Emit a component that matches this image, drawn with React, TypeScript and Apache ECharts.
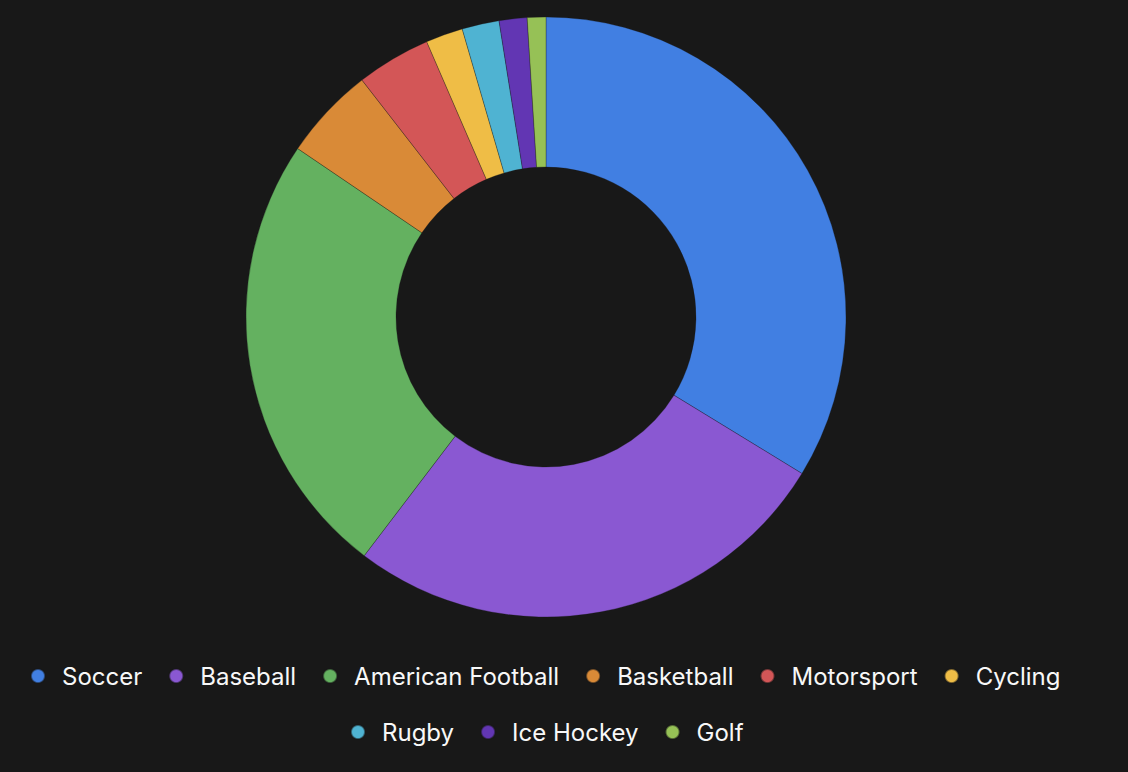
import React, { useEffect, useRef } from "react";
import * as echarts from "echarts";

const categories = [
  "Soccer",
  "Baseball",
  "American Football",
  "Basketball",
  "Motorsport",
  "Cycling",
  "Rugby",
  "Ice Hockey",
  "Golf",
];
const values = [33.7, 26.6, 24.1, 5.0, 4.0, 2.0, 2.0, 1.5, 1.0];
const colors = [
  "#417fe2",
  "#8a58d2",
  "#64b160",
  "#d98a37",
  "#d35657",
  "#efbd46",
  "#4fb3d2",
  "#6236b3",
  "#96c156",
];
const legendRow1 = categories.slice(0, 6);
const legendRow2 = categories.slice(6);

const BG = "#181818";

export default function App() {
  const ref = useRef<HTMLDivElement>(null);
  useEffect(() => {
    document.body.style.margin = "0";
    document.body.style.background = BG;
    if (!ref.current) return;
    const chart = echarts.init(ref.current, undefined, { renderer: "svg" });
    const legendBase = {
      orient: "horizontal" as const,
      padding: 0,
      icon: "circle",
      itemWidth: 14,
      itemHeight: 14,
      itemGap: 26,
      textStyle: {
        color: "#f8f8f8",
        fontSize: 24,
        fontFamily: "Inter",
        lineHeight: 30,
        padding: [0, 0, 0, 12],
      },
      selectedMode: false,
    };
    chart.setOption({
      animation: false,
      backgroundColor: BG,
      color: colors,
      legend: [
        { ...legendBase, left: 30, top: 661, data: legendRow1 },
        { ...legendBase, left: 350, top: 717, data: legendRow2 },
      ],
      series: [
        {
          type: "pie",
          center: [546, 317],
          radius: [150, 300],
          startAngle: 90,
          clockwise: true,
          label: { show: false },
          labelLine: { show: false },
          emphasis: { disabled: true },
          itemStyle: { borderColor: "rgba(24,24,24,0.5)", borderWidth: 0.6 },
          data: categories.map((name, i) => ({ name, value: values[i] })),
        },
      ],
    });
    return () => chart.dispose();
  }, []);
  return <div ref={ref} style={{ width: 1128, height: 772 }} />;
}
